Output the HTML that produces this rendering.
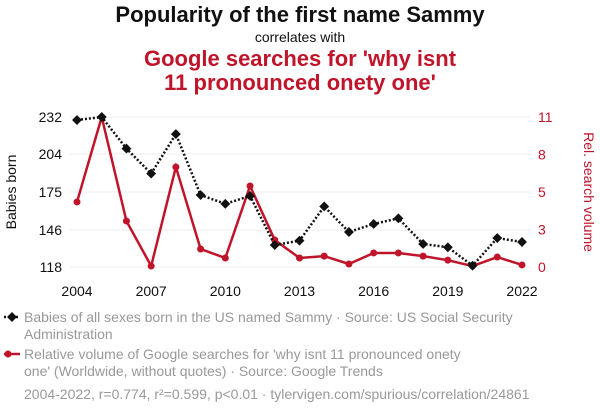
<!DOCTYPE html>
<html><head><meta charset="utf-8"><style>
body{margin:0;background:#fff;font-family:"Liberation Sans",sans-serif;}
svg text{font-family:"Liberation Sans",sans-serif;}
</style></head><body>
<svg id="c" width="600" height="414" viewBox="0 0 600 414" xmlns="http://www.w3.org/2000/svg">
<text x="300" y="22" text-anchor="middle" font-size="22" font-weight="bold" fill="#111">Popularity of the first name Sammy</text>
<text x="300" y="42" text-anchor="middle" font-size="14" fill="#111">correlates with</text>
<text x="300" y="66" text-anchor="middle" font-size="22" font-weight="bold" fill="#c0142a">Google searches for 'why isnt</text>
<text x="300" y="90" text-anchor="middle" font-size="22" font-weight="bold" fill="#c0142a">11 pronounced onety one'</text>
<g id="grid"></g><g id="axes"></g><g id="marks"></g>
<text transform="translate(16,192) rotate(-90)" text-anchor="middle" font-size="14" fill="#111">Babies born</text>
<text transform="translate(584,192) rotate(90)" text-anchor="middle" font-size="14" fill="#c0142a">Rel. search volume</text>
<g>
<line x1="4" y1="317" x2="20" y2="317" stroke="#111" stroke-width="2.5" stroke-dasharray="2,2"/>
<rect x="8.5" y="313.5" width="7" height="7" fill="#111" transform="rotate(45 12 317)"/>
<text x="24" y="322" font-size="14" fill="#999">Babies of all sexes born in the US named Sammy · Source: US Social Security</text>
<text x="24" y="339" font-size="14" fill="#999">Administration</text></g>
<g>
<line x1="4" y1="354" x2="20" y2="354" stroke="#c0142a" stroke-width="2.5"/>
<circle cx="8" cy="354" r="3.5" fill="#c0142a"/>
<text x="24" y="359" font-size="14" fill="#999">Relative volume of Google searches for 'why isnt 11 pronounced onety</text>
<text x="24" y="376" font-size="14" fill="#999">one' (Worldwide, without quotes) · Source: Google Trends</text></g>
<text x="24" y="399" font-size="14" fill="#999">2004-2022, r=0.774, r²=0.599, p&lt;0.01 · tylervigen.com/spurious/correlation/24861</text>
</svg>
<script>
const years=[2004,2005,2006,2007,2008,2009,2010,2011,2012,2013,2014,2015,2016,2017,2018,2019,2020,2021,2022];
const babies=[229.7,232,208,189,219,172.7,166,172,134.7,138,164,144.6,150.7,155,135.5,133,119,140,137];
const searches=[4.77,11,3.37,0.07,7.33,1.32,0.66,5.94,1.98,0.66,0.8,0.22,1.03,1.03,0.8,0.5,0.07,0.73,0.15];
const xTicks=[2004,2007,2010,2013,2016,2019,2022];
const leftTicks=[118,146,175,204,232];
const rightTickVals=[0,2.75,5.5,8.25,11];
const rightTickLabels=["0","3","5","8","11"];
const NS="http://www.w3.org/2000/svg";
const x=v=>77+(v-2004)/18*445;
const yL=v=>267-(v-118)/(232-118)*150;
const yR=v=>267-v/11*150;
function mk(p,t,a){const e=document.createElementNS(NS,t);for(const k in a)e.setAttribute(k,a[k]);p.appendChild(e);return e;}
const grid=document.getElementById('grid'),axes=document.getElementById('axes'),marks=document.getElementById('marks');
leftTicks.forEach(v=>{
 const g=mk(grid,'line',{x1:70,x2:530,y1:yL(v),y2:yL(v),stroke:'#eee','stroke-width':1});
 
 
 const t=mk(axes,'text',{x:62,y:yL(v)+5,'text-anchor':'end','font-size':14,fill:'#111'});t.textContent=v;
 
 
});
rightTickVals.forEach((v,i)=>{
 const t=mk(axes,'text',{x:538,y:yR(v)+5,'font-size':14,fill:'#c0142a'});t.textContent=rightTickLabels[i];
 
 
});
xTicks.forEach(v=>{
 const t=mk(axes,'text',{x:x(v),y:296,'text-anchor':'middle','font-size':14,fill:'#111'});t.textContent=v;
 
 
});
const rp=mk(marks,'polyline',{points:years.map((y,i)=>x(y)+','+yR(searches[i])).join(' '),fill:'none',stroke:'#c0142a','stroke-width':2.5});


years.forEach((y,i)=>{const c=mk(marks,'circle',{cx:x(y),cy:yR(searches[i]),r:3.5,fill:'#c0142a'});
 
 });
const bp=mk(marks,'polyline',{points:years.map((y,i)=>x(y)+','+yL(babies[i])).join(' '),fill:'none',stroke:'#111','stroke-width':2.5,'stroke-dasharray':'2,2'});


years.forEach((y,i)=>{const cx=x(y),cy=yL(babies[i]);
 const r=mk(marks,'rect',{x:cx-3.5,y:cy-3.5,width:7,height:7,fill:'#111',transform:`rotate(45 ${cx} ${cy})`});
 
 });
</script>
</body></html>
